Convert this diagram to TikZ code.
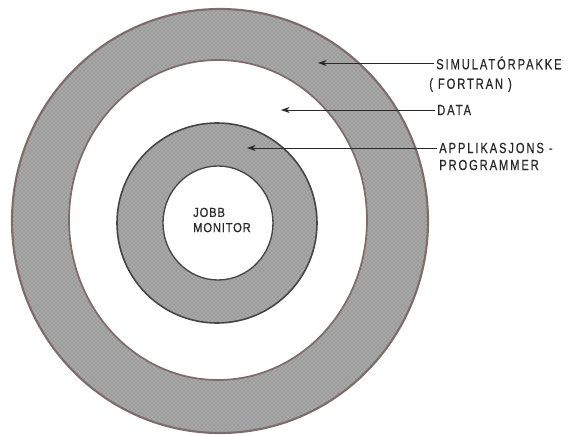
\documentclass[tikz,border=0pt]{standalone}
\usepackage{fontspec}
\setmainfont{Liberation Sans}
\usepackage{tikz}
\usetikzlibrary{arrows.meta,positioning,patterns}
\newfontfamily\labelfont[FakeStretch=0.76, LetterSpace=13, FakeBold=0.6]{Liberation Sans}
\newfontfamily\corefont[FakeStretch=0.86, LetterSpace=6, FakeBold=0.6]{Liberation Sans}
\definecolor{ringedge}{RGB}{125,108,108}
\definecolor{coreedge}{RGB}{72,68,68}
\definecolor{dotgray}{RGB}{170,170,170}
\definecolor{inkgray}{RGB}{40,40,40}

\begin{document}
\begin{tikzpicture}[
  x=0.75pt, y=-0.75pt,
  ring/.style={preaction={fill=dotgray}, pattern=crosshatch dots, pattern color=black!60, draw=ringedge, line width=1.6pt},
  hole/.style={fill=white, draw=ringedge, line width=1.3pt},
  ringlabel/.style={anchor=west, inner sep=1.5pt, text=inkgray, font=\labelfont\fontsize{11}{13}\selectfont},
  corelabel/.style={align=left, inner sep=1pt, text=inkgray, font=\corefont\fontsize{9.8}{11.4}\selectfont},
  pointer/.style={-{Stealth[length=6.5pt, width=4.5pt]}, inkgray, line width=0.7pt},
]
  \useasboundingbox (0,0) rectangle (572,435);

  % Rings
  \path[ring] (220,221) ellipse [x radius=208, y radius=212];
  \path[hole] (218,220) ellipse [x radius=149, y radius=160];
  \path[ring, draw=coreedge, line width=1.2pt] (217,223) circle [radius=100];
  \path[hole, draw=coreedge, line width=1pt] (218,223) ellipse [x radius=55, y radius=57];

  % Core
  \node[corelabel] (jobb) at (222,220) {JOBB\\MONITOR};

  % Labels
  \node[ringlabel] (simpak) at (434,63) {SIMULATÓRPAKKE};
  \node[ringlabel] (fortran) at (427,85) {( FORTRAN )};
  \node[ringlabel] (data) at (435,110) {DATA};
  \node[ringlabel] (applik) at (437,148) {APPLIKASJONS -};
  \node[ringlabel] (progr) at (437,165) {PROGRAMMER};

  % Pointers
  \coordinate (simpak tip) at (318,63);
  \coordinate (data tip) at (281,110);
  \coordinate (applik tip) at (247,148);
  \draw[pointer] (simpak.west) -- (simpak tip);
  \draw[pointer] (data.west) -- (data tip);
  \draw[pointer] (applik.west) -- (applik tip);
\end{tikzpicture}
\end{document}
